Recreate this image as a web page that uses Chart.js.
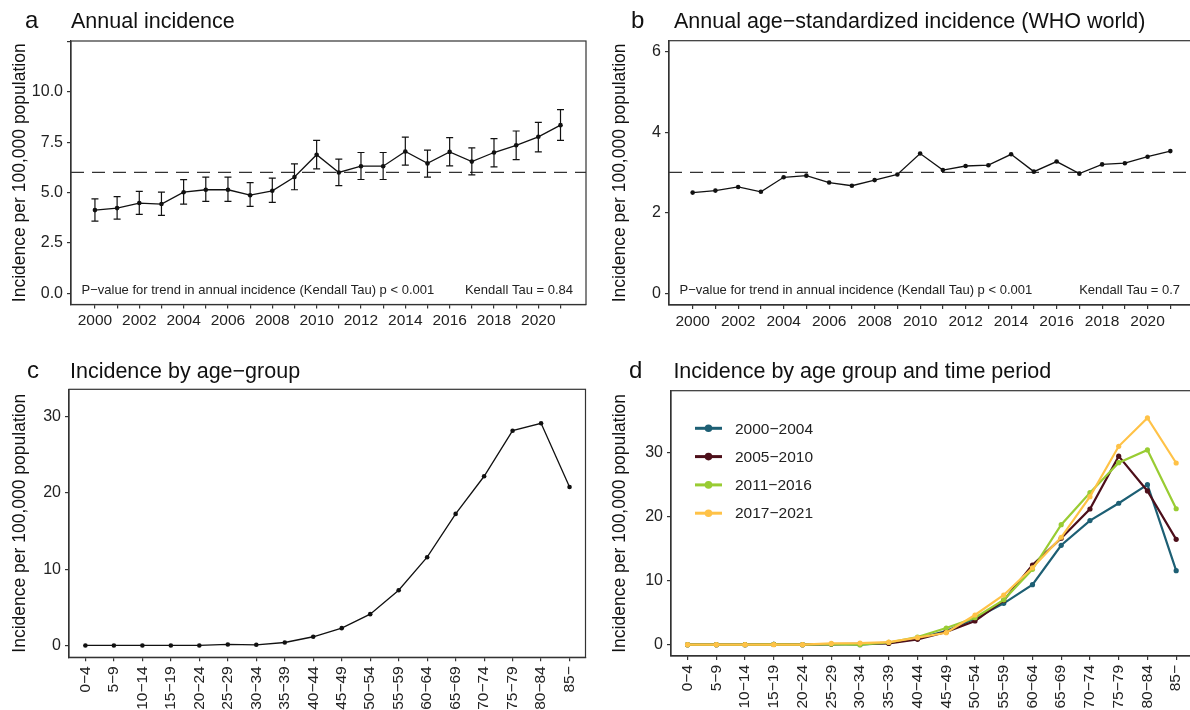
<!DOCTYPE html>
<html>
<head>
<meta charset="utf-8">
<title>Incidence</title>
<script src="https://cdn.jsdelivr.net/npm/chart.js@4.4.0/dist/chart.umd.min.js"></script>
<style>
  html, body { margin: 0; padding: 0; background: #fff; overflow: hidden; width: 1190px; height: 710px; }
  canvas { position: absolute; }
</style>
</head>
<body>
<canvas id="chartA" width="600" height="345" style="left:0;top:0"></canvas>
<canvas id="chartB" width="600" height="345" style="left:600px;top:0"></canvas>
<canvas id="chartC" width="600" height="365" style="left:0;top:345px"></canvas>
<canvas id="chartD" width="600" height="365" style="left:600px;top:345px"></canvas>
<script>
const FONT = "'Liberation Sans', Arial, Helvetica, sans-serif";
Chart.defaults.font.family = FONT;
Chart.defaults.color = '#222';

// --- data ---
const years = [2000, 2001, 2002, 2003, 2004, 2005, 2006, 2007, 2008, 2009, 2010,
               2011, 2012, 2013, 2014, 2015, 2016, 2017, 2018, 2019, 2020, 2021];
const yearLabels = years.map(y => (y % 2 === 0 ? String(y) : ''));

const incidence     = [4.13, 4.23, 4.48, 4.43, 5.02, 5.14, 5.14, 4.87, 5.09, 5.77, 6.88,
                       6.00, 6.31, 6.31, 7.04, 6.45, 7.02, 6.54, 6.99, 7.35, 7.77, 8.35];
const incidenceLow  = [3.58, 3.68, 3.92, 3.87, 4.43, 4.56, 4.56, 4.31, 4.51, 5.14, 6.18,
                       5.35, 5.65, 5.65, 6.36, 5.77, 6.33, 5.88, 6.28, 6.64, 7.02, 7.59];
const incidenceHigh = [4.69, 4.80, 5.06, 5.02, 5.64, 5.77, 5.77, 5.49, 5.72, 6.43, 7.59,
                       6.66, 6.99, 6.99, 7.75, 7.11, 7.73, 7.22, 7.68, 8.06, 8.49, 9.12];
const meanIncidence = 6.0;

const ageStdIncidence = [2.50, 2.55, 2.64, 2.52, 2.88, 2.92, 2.75, 2.67, 2.81, 2.95, 3.47,
                         3.06, 3.16, 3.18, 3.45, 3.02, 3.27, 2.97, 3.20, 3.23, 3.39, 3.53];
const meanAgeStd = 3.0;

const ageGroups = ['0−4', '5−9', '10−14', '15−19', '20−24', '25−29', '30−34', '35−39', '40−44',
                   '45−49', '50−54', '55−59', '60−64', '65−69', '70−74', '75−79', '80−84', '85−'];
const ageIncidence = [0, 0, 0, 0, 0, 0.13, 0.09, 0.39, 1.14, 2.27, 4.1, 7.24, 11.56, 17.23,
                      22.16, 28.13, 29.1, 20.76];

const periods = ['2000−2004', '2005−2010', '2011−2016', '2017−2021'];
const periodColors = ['#1d5f74', '#4d0f1a', '#99cc33', '#ffc247'];
const inc2000_2004 = [0, 0, 0, 0.05, 0, 0.1, 0, 0.3, 1.0, 2.14, 4.1, 6.45, 9.36, 15.5, 19.35, 22.05, 24.95, 11.54];
const inc2005_2010 = [0, 0, 0, 0.05, 0, 0.1, 0.15, 0.2, 0.84, 2.0, 3.7, 6.9, 12.43, 16.6, 21.16, 29.4, 23.97, 16.43];
const inc2011_2016 = [0, 0, 0, 0.05, 0, 0.1, 0, 0.35, 1.2, 2.6, 4.2, 7.0, 11.75, 18.71, 23.7, 28.38, 30.36, 21.2];
const inc2017_2021 = [0, 0, 0, 0, 0, 0.2, 0.25, 0.4, 1.1, 1.87, 4.63, 7.75, 12.0, 16.75, 23.08, 30.93, 35.35, 28.33];
const periodSeries = [inc2000_2004, inc2005_2010, inc2011_2016, inc2017_2021];

const ticksA = [0, 2.5, 5, 7.5, 10, 12.5];
const tickLabelsA = ['0.0', '2.5', '5.0', '7.5', '10.0', ''];
const ticksB = [0, 2, 4, 6];
const ticksAge = [0, 10, 20, 30];
const ageIndex = ageGroups.map((g, i) => i);

const pValueText = 'P−value for trend in annual incidence (Kendall Tau) p < 0.001';
const yTitle = 'Incidence per 100,000 population';

// --- plugins ---
const frame = {
  id: 'frame',
  beforeDatasetsDraw(chart, args, opts) {
    const { ctx, chartArea: a } = chart;
    ctx.save();
    ctx.strokeStyle = '#333';
    ctx.lineWidth = 1.2;
    ctx.strokeRect(a.left, a.top, a.right - a.left, a.bottom - a.top);
    if (opts.refValue !== undefined) {
      const y = chart.scales.y.getPixelForValue(opts.refValue);
      ctx.setLineDash([13, 8]);
      ctx.beginPath();
      ctx.moveTo(a.left, y);
      ctx.lineTo(a.right, y);
      ctx.stroke();
    }
    ctx.restore();
  }
};

const errorBars = {
  id: 'errorBars',
  beforeDatasetsDraw(chart, args, opts) {
    if (!opts.low) return;
    const { ctx, scales: { x, y } } = chart;
    ctx.save();
    ctx.strokeStyle = '#111';
    ctx.lineWidth = 1.2;
    opts.x.forEach((xv, i) => {
      const px = x.getPixelForValue(xv);
      const lo = y.getPixelForValue(opts.low[i]);
      const hi = y.getPixelForValue(opts.high[i]);
      ctx.beginPath();
      ctx.moveTo(px, lo); ctx.lineTo(px, hi);
      ctx.moveTo(px - 3.5, lo); ctx.lineTo(px + 3.5, lo);
      ctx.moveTo(px - 3.5, hi); ctx.lineTo(px + 3.5, hi);
      ctx.stroke();
    });
    ctx.restore();
  }
};

const header = {
  id: 'header',
  afterDraw(chart, args, opts) {
    const ctx = chart.ctx;
    ctx.save();
    ctx.fillStyle = '#111';
    ctx.textBaseline = 'alphabetic';
    ctx.font = '24px ' + FONT;
    ctx.fillText(opts.letter, opts.letterX, opts.y);
    ctx.font = '21.5px ' + FONT;
    ctx.fillText(opts.title, opts.titleX, opts.y);
    if (opts.note) {
      const a = chart.chartArea;
      ctx.font = '13px ' + FONT;
      ctx.fillStyle = '#222';
      ctx.textBaseline = 'middle';
      ctx.fillText(opts.note, a.left + 10.5, a.bottom - 14.5);
      ctx.textAlign = 'right';
      ctx.fillText(opts.tau, a.right - opts.tauRight, a.bottom - 14.5);
    }
    ctx.restore();
  }
};

const periodLegend = {
  id: 'periodLegend',
  afterDraw(chart, args, opts) {
    if (!opts.show) return;
    const { ctx, chartArea: a } = chart;
    ctx.save();
    ctx.font = '15.5px ' + FONT;
    ctx.textBaseline = 'middle';
    chart.data.datasets.forEach((ds, i) => {
      const y = a.top + 37.6 + i * 28.3;
      const x0 = a.left + 24;
      ctx.strokeStyle = ds.borderColor;
      ctx.lineWidth = 3;
      ctx.beginPath();
      ctx.moveTo(x0, y); ctx.lineTo(x0 + 27, y);
      ctx.stroke();
      ctx.fillStyle = ds.borderColor;
      ctx.beginPath();
      ctx.arc(x0 + 13.5, y, 3.8, 0, Math.PI * 2);
      ctx.fill();
      ctx.fillStyle = '#222';
      ctx.fillText(ds.label, x0 + 40, y + 1);
    });
    ctx.restore();
  }
};

// --- axis helpers ---
function gridStyle() {
  return { drawOnChartArea: false, drawTicks: true, tickLength: 4, color: '#333', lineWidth: 1.2 };
}

function yAxis(min, max, width, values, labels) {
  return {
    type: 'linear', min: min, max: max,
    afterFit: s => { s.width = width; },
    afterBuildTicks: s => { s.ticks = values.map(v => ({ value: v })); },
    ticks: { callback: (v, i) => labels[i], color: '#222', font: { size: 16 }, padding: 4 },
    grid: gridStyle(),
    border: { display: true, color: '#333', width: 1.2 },
    title: { display: true, text: yTitle, color: '#111', font: { size: 17.5 }, padding: { top: 10, bottom: 0 } }
  };
}

function xAxis(min, max, height, values, labels, rotated) {
  return {
    type: 'linear', min: min, max: max,
    afterFit: s => { s.height = height; },
    afterBuildTicks: s => { s.ticks = values.map(v => ({ value: v })); },
    ticks: {
      autoSkip: false, callback: (v, i) => labels[i], color: '#222', font: { size: 15.5 },
      padding: rotated ? 5 : 3, maxRotation: rotated ? 90 : 0, minRotation: rotated ? 90 : 0
    },
    grid: gridStyle(),
    border: { display: true, color: '#333', width: 1.2 }
  };
}

function lineSet(label, xs, ys, color, width, radius, order) {
  return {
    label: label,
    data: xs.map((x, i) => ({ x: x, y: ys[i] })),
    borderColor: color, backgroundColor: color,
    borderWidth: width, pointRadius: radius, pointBorderWidth: 0,
    pointBackgroundColor: color, tension: 0, order: order || 0
  };
}

function makeChart(id, datasets, scales, pad, pluginOpts) {
  return new Chart(document.getElementById(id), {
    type: 'line',
    data: { datasets: datasets },
    options: {
      responsive: false, animation: false, events: [],
      layout: { padding: pad },
      scales: scales,
      plugins: Object.assign({ legend: { display: false }, tooltip: { enabled: false } }, pluginOpts)
    },
    plugins: [frame, errorBars, header, periodLegend]
  });
}

// a
makeChart('chartA',
  [lineSet('Annual incidence', years, incidence, '#111', 1.3, 2.3)],
  { x: xAxis(1998.92, 2022.15, 40.5, years, yearLabels, false),
    y: yAxis(-0.56, 12.53, 71, ticksA, tickLabelsA) },
  { top: 41, right: 14, left: 0, bottom: 0 },
  { frame: { refValue: meanIncidence },
    errorBars: { x: years, low: incidenceLow, high: incidenceHigh },
    header: { letter: 'a', letterX: 25, title: 'Annual incidence', titleX: 71, y: 28.3,
              note: pValueText, tau: 'Kendall Tau = 0.84', tauRight: 13 } });

// b
makeChart('chartB',
  [lineSet('Age-standardized', years, ageStdIncidence, '#111', 1.3, 2.3)],
  { x: xAxis(1998.96, 2022.04, 40, years, yearLabels, false),
    y: yAxis(-0.29, 6.27, 69, ticksB, ticksB.map(String)) },
  { top: 40.7, right: 6, left: 0, bottom: 0 },
  { frame: { refValue: meanAgeStd },
    header: { letter: 'b', letterX: 31, title: 'Annual age−standardized incidence (WHO world)', titleX: 74, y: 28.3,
              note: pValueText, tau: 'Kendall Tau = 0.7', tauRight: 14 } });

// c
makeChart('chartC',
  [lineSet('Age group', ageIndex, ageIncidence, '#111', 1.3, 2.3)],
  { x: xAxis(-0.576, 17.56, 52.7, ageIndex, ageGroups, true),
    y: yAxis(-1.55, 33.55, 69, ticksAge, ticksAge.map(String)) },
  { top: 44.3, right: 14.5, left: 0, bottom: 0 },
  { header: { letter: 'c', letterX: 27, title: 'Incidence by age−group', titleX: 70, y: 33.3 } });

// d
makeChart('chartD',
  periods.map((p, k) => lineSet(p, ageIndex, periodSeries[k], periodColors[k], 2.2, 2.6, 4 - k)),
  { x: xAxis(-0.577, 17.577, 54, ageIndex, ageGroups, true),
    y: yAxis(-1.76, 39.6, 71, ticksAge, ticksAge.map(String)) },
  { top: 45.7, right: 7, left: 0, bottom: 0 },
  { header: { letter: 'd', letterX: 29, title: 'Incidence by age group and time period', titleX: 73.4, y: 33.3 },
    periodLegend: { show: true } });
</script>
</body>
</html>
